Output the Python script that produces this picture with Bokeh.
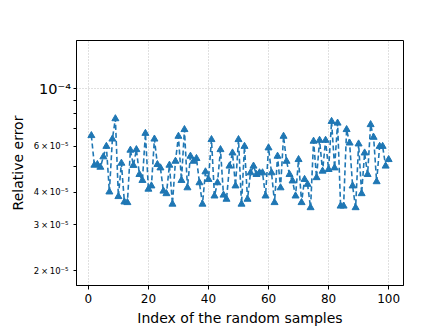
from bokeh.plotting import figure
from bokeh.models import Range1d, FixedTicker, Label
from bokeh.embed import file_html
from bokeh.resources import INLINE

# sample index
idx = list(range(1, 101))
# relative error values (units of 1e-5)
err_e5 = [
    6.60, 5.08, 5.11, 4.99, 5.47, 6.00, 4.01, 6.40, 7.66, 3.85,
    5.17, 3.67, 3.65, 5.80, 5.07, 5.83, 4.68, 4.44, 6.73, 4.11,
    4.23, 6.40, 5.11, 4.96, 4.04, 3.95, 5.08, 3.60, 5.26, 6.56,
    4.44, 6.96, 4.16, 5.50, 5.26, 5.39, 4.35, 3.60, 4.79, 4.48,
    6.37, 3.87, 4.35, 5.83, 3.90, 3.76, 5.04, 5.66, 4.23, 6.37,
    3.60, 6.00, 3.76, 4.75, 5.04, 4.68, 4.75, 4.75, 3.87, 5.92,
    4.75, 3.65, 5.50, 4.16, 6.56, 5.26, 4.68, 4.42, 3.87, 5.34,
    3.65, 4.48, 4.29, 3.49, 6.28, 4.55, 6.33, 4.82, 6.33, 4.89,
    7.48, 4.96, 7.37, 3.54, 3.54, 6.96, 6.18, 4.23, 3.49, 6.13,
    3.95, 5.66, 4.68, 7.27, 6.50, 4.39, 6.00, 6.00, 5.04, 5.34,
]
err = [v * 1e-5 for v in err_e5]

x_ticks = [0, 20, 40, 60, 80, 100]
y_ticks = [2e-5, 3e-5, 4e-5, 5e-5, 6e-5, 7e-5, 8e-5, 9e-5, 1e-4]
y_tick_labels = {
    2e-5: "2\u2009\u00d7\u200910\u207b\u2075",
    3e-5: "3\u2009\u00d7\u200910\u207b\u2075",
    4e-5: "4\u2009\u00d7\u200910\u207b\u2075",
    5e-5: "",
    6e-5: "6\u2009\u00d7\u200910\u207b\u2075",
    7e-5: "",
    8e-5: "",
    9e-5: "",
    1e-4: "",
}
major_label_text = "10\u207b\u2074"

FONT = "DejaVu Sans"
BLUE = "#1f77b4"

p = figure(width=440, height=328, y_axis_type="log",
           output_backend="svg", toolbar_location=None,
           x_range=Range1d(-3.95, 104.95), y_range=Range1d(1.754e-5, 1.529e-4),
           min_border_left=76, min_border_right=37, min_border_top=40,
           min_border_bottom=42)

p.outline_line_color = "black"
p.outline_line_width = 1
p.background_fill_color = "white"
p.border_fill_color = "white"

p.line(idx, err, line_color=BLUE, line_width=1.6, line_dash="5 3")
p.scatter(idx, err, marker="triangle", size=7, fill_color=BLUE, line_color=BLUE)

# x axis
p.xaxis.ticker = FixedTicker(ticks=x_ticks)
p.xaxis.axis_label = "Index of the random samples"
p.xaxis.axis_label_text_font = FONT
p.xaxis.axis_label_text_font_size = "14px"
p.xaxis.axis_label_text_font_style = "normal"
p.xaxis.axis_label_text_color = "black"
p.xaxis.axis_label_standoff = 4
p.xaxis.major_label_text_font = FONT
p.xaxis.major_label_text_font_size = "12px"
p.xaxis.major_label_text_color = "black"
p.xaxis.major_label_standoff = 4
p.xaxis.major_tick_out = 4
p.xaxis.major_tick_in = 0
p.xaxis.minor_tick_out = 0
p.xaxis.minor_tick_in = 0
p.xaxis.axis_line_color = "black"
p.xaxis.major_tick_line_color = "black"

# y axis
p.yaxis.ticker = FixedTicker(ticks=y_ticks)
p.yaxis.major_label_overrides = y_tick_labels
p.yaxis.axis_label = "Relative error"
p.yaxis.axis_label_text_font = FONT
p.yaxis.axis_label_text_font_size = "14px"
p.yaxis.axis_label_text_font_style = "normal"
p.yaxis.axis_label_text_color = "black"
p.yaxis.axis_label_standoff = 5
p.yaxis.major_label_text_font = FONT
p.yaxis.major_label_text_font_size = "8.5px"
p.yaxis.major_label_text_color = "black"
p.yaxis.major_label_standoff = 5
p.yaxis.major_tick_out = 3
p.yaxis.major_tick_in = 0
p.yaxis.minor_tick_out = 0
p.yaxis.minor_tick_in = 0
p.yaxis.axis_line_color = "black"
p.yaxis.major_tick_line_color = "black"

# grid
p.xgrid.ticker = FixedTicker(ticks=x_ticks)
p.ygrid.ticker = FixedTicker(ticks=[1e-4])
for g in (p.xgrid, p.ygrid):
    g.grid_line_color = "#b0b0b0"
    g.grid_line_dash = "1 2"
    g.grid_line_width = 0.8

p.add_layout(Label(x=-5.8, y=1e-4, x_units="data", y_units="data",
                   text=major_label_text,
                   text_font=FONT, text_font_size="14.5px",
                   text_align="right", text_baseline="middle",
                   text_color="black"), "above")

open("out.html", "w").write(file_html(p, INLINE))
